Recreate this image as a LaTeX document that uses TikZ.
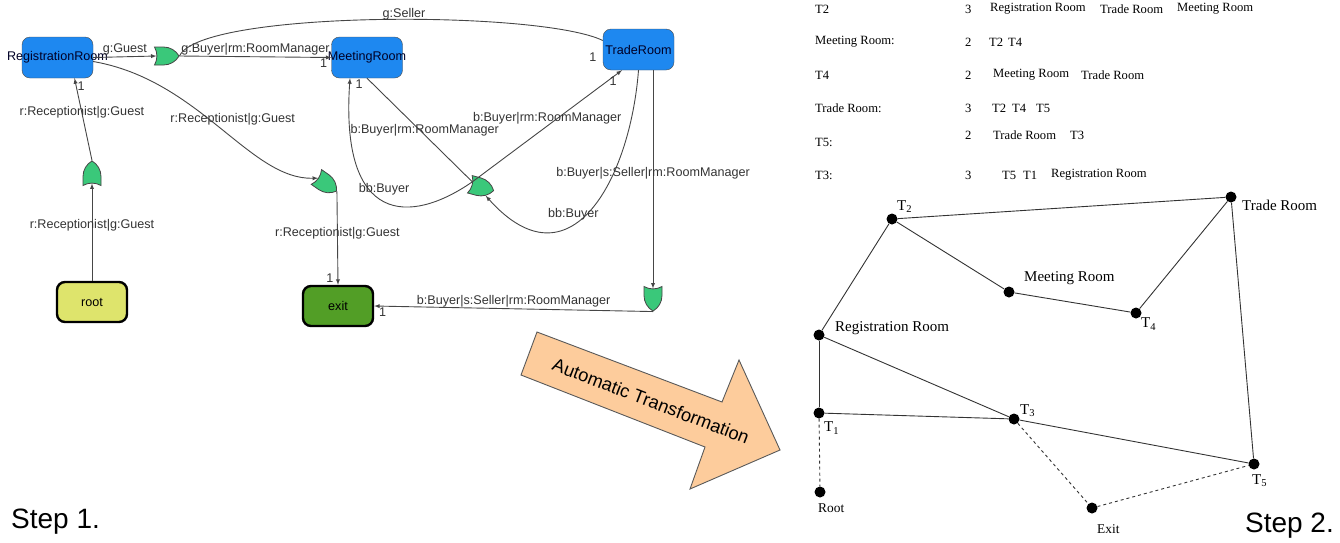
\documentclass[tikz,border=0pt]{standalone}
\usepackage{fontspec}
\setmainfont{Liberation Serif}
\setsansfont{Liberation Sans}
\usepackage{tikz}
\usetikzlibrary{arrows,positioning,shapes.gates.logic.US}
\definecolor{roomblue}{RGB}{30,136,240}
\definecolor{roottint}{RGB}{222,228,108}
\definecolor{exitgreen}{RGB}{82,158,38}
\definecolor{gategreen}{RGB}{58,200,122}
\definecolor{xformfill}{RGB}{253,204,156}
\definecolor{wiregray}{RGB}{70,70,70}
\tikzset{
  room/.style={draw=black!70, fill=roomblue, rounded corners=8pt, minimum width=71pt, minimum height=41pt, inner sep=0pt, font=\sffamily\fontsize{12.6}{14}\selectfont, text=black!85!blue},
  endbox/.style={draw=black, line width=2.4pt, rounded corners=8pt, minimum width=70pt, minimum height=40pt, inner sep=0pt, font=\sffamily\fontsize{12.6}{14}\selectfont},
  gate/.style={or gate US, draw=wiregray, line width=0.8pt, fill=gategreen, logic gate inputs=nn, minimum height=18pt, minimum width=18pt, inner sep=0pt},
  wire/.style={draw=wiregray, line width=0.9pt},
  wirelbl/.style={font=\sffamily\fontsize{12.6}{14}\selectfont, text=black!80, inner sep=1pt},
  dot/.style={circle, fill=black, inner sep=0pt, minimum size=11pt},
  edge/.style={draw=black!80, line width=0.9pt},
  place/.style={font=\fontsize{15}{17}\selectfont, inner sep=0pt, anchor=west},
  endplace/.style={font=\fontsize{13.4}{15}\selectfont, inner sep=0pt, anchor=west},
  cell/.style={font=\fontsize{12.6}{14}\selectfont, inner sep=0pt, anchor=west},
  steplbl/.style={font=\sffamily\fontsize{28}{30}\selectfont, inner sep=0pt},
}
\begin{document}
\begin{tikzpicture}[x=1pt, y=-1pt]
            \useasboundingbox (0,0) rectangle (1340,542);
            \node[room] (regroom) at (57.5,57.5) {\makebox[0pt]{RegistrationRoom}};
            \node[room] (meetroom) at (367,57.5) {\makebox[0pt]{MeetingRoom}};
            \node[room] (traderoom) at (638.5,49.5) {\makebox[0pt]{TradeRoom}};
            \node[endbox, fill=roottint] (root) at (92,302) {root};
            \node[endbox, fill=exitgreen] (exit) at (338,306) {exit};
            \node[gate] (g1) at (165,56) {};
            \node[gate, rotate=90] (g2) at (92,175) {};
            \node[gate, rotate=-35] (g3) at (325,183) {};
            \node[gate, rotate=-15] (g4) at (480,187) {};
            \node[gate, rotate=-90] (g5) at (653,297) {};
            \draw[wire, -latex] (regroom.east) -- (g1.west) node[wirelbl, midway, above] {g:Guest};
            \draw[wire, -latex] (g1.output) -- (meetroom.west) node[wirelbl, midway, above] {g:Buyer|rm:RoomManager} node[wirelbl, pos=.95, below] {1};
            \draw[wire] ([yshift=9pt]traderoom.west) .. controls (540,10) and (200,10) .. (g1.output) node[wirelbl, pos=.45, yshift=5pt] {g:Seller} node[wirelbl, pos=0, xshift=-10pt, yshift=-17pt] {1};
            \draw[wire, -latex] (root.north) -- (g2.west) node[wirelbl, pos=.57] {r:Receptionist|g:Guest};
            \draw[wire, -latex] (g2.east) -- ([xshift=17pt]regroom.south) node[wirelbl, pos=.58] {r:Receptionist|g:Guest} node[wirelbl, pos=.9, right] {1};
            \draw[wire, -latex] ([yshift=-4pt]regroom.east) .. controls (200,80) and (250,180) .. (g3.west) node[wirelbl, pos=.45, xshift=23pt] {r:Receptionist|g:Guest};
            \draw[wire, -latex] (g3.east) -- (exit.north) node[wirelbl, pos=.45] {r:Receptionist|g:Guest} node[wirelbl, pos=.93, left, xshift=-3pt] {1};
            \draw[wire] (meetroom.south) -- (g4.input 1) node[wirelbl, pos=.5, xshift=5pt] {b:Buyer|rm:RoomManager} node[wirelbl, pos=0, below left, xshift=-3pt] {1};
            \draw[wire, -latex] (g4.input 1) -- ([xshift=-16.5pt]traderoom.south) node[wirelbl, pos=.5, yshift=8pt] {b:Buyer|rm:RoomManager} node[wirelbl, pos=.94, yshift=-4pt] {1};
            \draw[wire, -latex] (g4.input 1) .. controls (410,225) and (340,225) .. ([xshift=-17pt]meetroom.south) node[wirelbl, pos=.5, yshift=12pt] {bb:Buyer};
            \draw[wire, -latex] (traderoom.south) .. controls (630,180) and (570,290) .. (g4.south east) node[wirelbl, pos=.6, yshift=10pt] {bb:Buyer};
            \draw[wire, -latex] ([xshift=14.5pt]traderoom.south) -- (g5.west) node[wirelbl, pos=.47] {b:Buyer|s:Seller|rm:RoomManager};
            \draw[wire, -latex] (g5.east) -- (exit.east) node[wirelbl, midway, above] {b:Buyer|s:Seller|rm:RoomManager} node[wirelbl, pos=.97, below] {1};
            \draw[fill=xformfill, draw=black!65, line width=0.9pt] (537,332) -- (722,402) -- (739,360) -- (780,450) -- (690,489) -- (705,447) -- (521,375) -- cycle;
            \node[font=\sffamily\fontsize{18.3}{20}\selectfont, rotate=-21] (xform) at (651,401) {Automatic Transformation};
            \node[steplbl, anchor=west] (step1) at (11,522) {Step 1.};
            \node[steplbl, anchor=east] (step2) at (1334,526) {Step 2.};
            \node[cell] (r1a) at (815,9) {T2};
            \node[cell] (r1b) at (965,9) {3};
            \node[cell] (r1c) at (990,9) {Registration Room};
            \node[cell] (r1d) at (1100,9) {Trade Room};
            \node[cell] (r1e) at (1177,9) {Meeting Room};
            \node[cell] (r2a) at (815,42) {Meeting Room:};
            \node[cell] (r2b) at (965,42) {2};
            \node[cell] (r2c) at (989,42) {T2};
            \node[cell] (r2d) at (1008,42) {T4};
            \node[cell] (r3a) at (815,75) {T4};
            \node[cell] (r3b) at (965,75) {2};
            \node[cell] (r3c) at (993,75) {Meeting Room};
            \node[cell] (r3d) at (1081,75) {Trade Room};
            \node[cell] (r4a) at (815,108) {Trade Room:};
            \node[cell] (r4b) at (965,108) {3};
            \node[cell] (r4c) at (992,108) {T2};
            \node[cell] (r4d) at (1012,108) {T4};
            \node[cell] (r4e) at (1036,108) {T5};
            \node[cell] (r5a) at (815,142) {T5:};
            \node[cell] (r5b) at (965,135) {2};
            \node[cell] (r5c) at (993,135) {Trade Room};
            \node[cell] (r5d) at (1070,135) {T3};
            \node[cell] (r6a) at (815,175) {T3:};
            \node[cell] (r6b) at (965,175) {3};
            \node[cell] (r6c) at (1002,175) {T5};
            \node[cell] (r6d) at (1023,175) {T1};
            \node[cell] (r6e) at (1051,175) {Registration Room};
            \node[dot] (t2) at (892,219) {};
            \node[dot] (tradeR) at (1231,197) {};
            \node[dot] (meetR) at (1009,292) {};
            \node[dot] (t4) at (1136,313) {};
            \node[dot] (regR) at (819,335) {};
            \node[dot] (t1) at (819,413) {};
            \node[dot] (t3) at (1014,419) {};
            \node[dot] (t5) at (1254,464) {};
            \node[dot] (rootR) at (820,492) {};
            \node[dot] (exitR) at (1092,508) {};
            \node[place] (lt2) at (897,207) {T\textsubscript{2}};
            \node[place] (ltrade) at (1242,205) {Trade Room};
            \node[place] (lmeet) at (1024,278) {Meeting Room};
            \node[place] (lt4) at (1141,324) {T\textsubscript{4}};
            \node[place] (lreg) at (835,328) {Registration Room};
            \node[place] (lt1) at (824,428) {T\textsubscript{1}};
            \node[place] (lt3) at (1020,411) {T\textsubscript{3}};
            \node[place] (lt5) at (1252,481) {T\textsubscript{5}};
            \node[endplace] (lroot) at (818,508) {Root};
            \node[endplace] (lexit) at (1097,529) {Exit};
            \draw[edge] (regR) -- (t2);
            \draw[edge] (t2) -- (tradeR);
            \draw[edge] (t2) -- (meetR);
            \draw[edge] (meetR) -- (t4);
            \draw[edge] (t4) -- (tradeR);
            \draw[edge] (tradeR) -- (t5);
            \draw[edge] (regR) -- (t1);
            \draw[edge] (regR) -- (t3);
            \draw[edge] (t1) -- (t3);
            \draw[edge] (t3) -- (t5);
            \draw[edge, dashed] (t1) -- (rootR);
            \draw[edge, dashed] (t3) -- (exitR);
            \draw[edge, dashed] (exitR) -- (t5);
        \end{tikzpicture}
\end{document}
